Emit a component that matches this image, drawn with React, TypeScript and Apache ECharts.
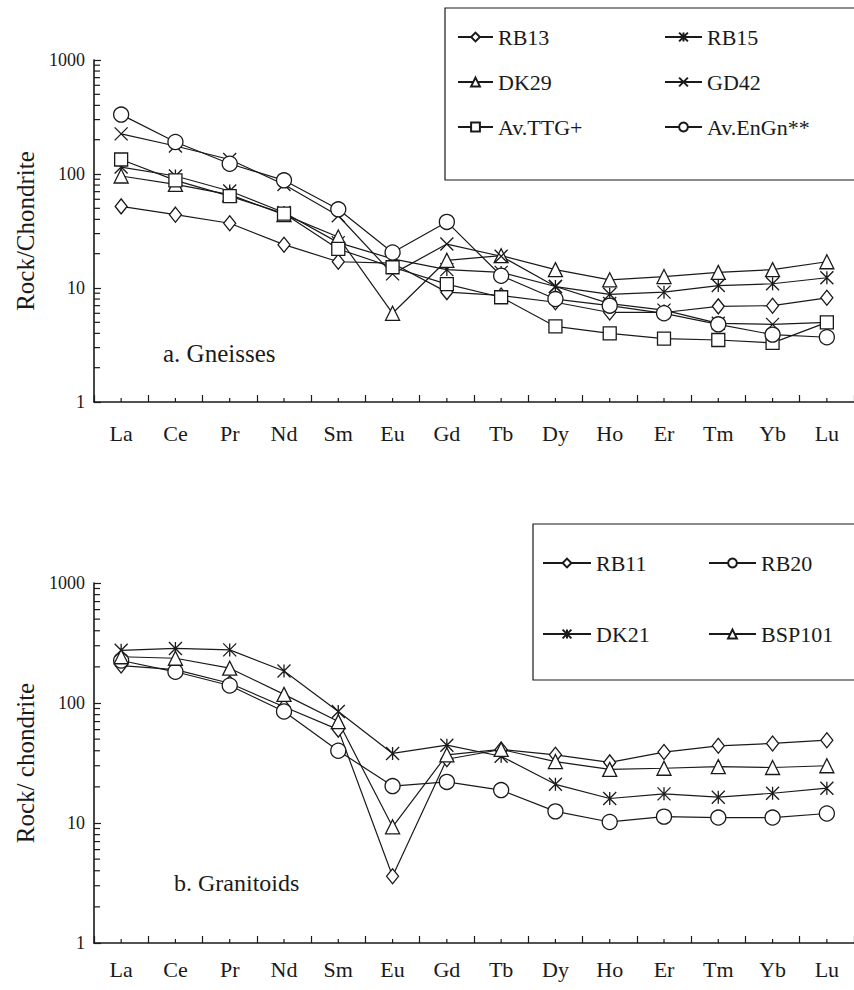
import React, { useEffect, useRef } from 'react';
import * as echarts from 'echarts';

// ---------- data ----------
const elements = ['La', 'Ce', 'Pr', 'Nd', 'Sm', 'Eu', 'Gd', 'Tb', 'Dy', 'Ho', 'Er', 'Tm', 'Yb', 'Lu'];
const yTickLabels = [1, 10, 100, 1000];
const minorTickValues = [2, 3, 4, 5, 6, 7, 8, 9, 20, 30, 40, 50, 60, 70, 80, 90, 200, 300, 400, 500, 600, 700, 800, 900];

// a. Gneisses
const rb13 = [52, 44, 37, 24, 17, 16.5, 9.2, 8.6, 7.5, 6.1, 6.1, 6.9, 7.0, 8.2];
const rb15 = [115, 96, 71, 46, 25, 18, 14.5, 13.7, 10.3, 8.8, 9.2, 10.5, 10.9, 12.3];
const dk29 = [96, 81, 66, 44, 28, 6.0, 17.5, 19.2, 14.5, 11.8, 12.6, 13.7, 14.5, 17];
const gd42 = [225, 176, 134, 81, 43, 13.3, 24.3, 19, 10.3, 7.3, 6.4, 4.9, 4.8, 5.0];
const avTTG = [134, 88, 64, 45, 22, 15.2, 10.8, 8.3, 4.6, 4.0, 3.6, 3.5, 3.3, 5.0];
const avEnGn = [332, 191, 123, 88, 49, 20.5, 38, 12.8, 8.0, 7.0, 6.0, 4.8, 3.9, 3.7];

// b. Granitoids
const rb11 = [205, 190, 146, 93, 60, 3.6, 34, 41, 37, 32, 39, 44, 46, 49];
const rb20 = [226, 182, 140, 85, 40, 20.3, 22, 18.8, 12.5, 10.2, 11.3, 11.1, 11.1, 12.0];
const dk21 = [275, 285, 277, 185, 85, 38, 44.5, 36, 21, 16, 17.5, 16.4, 17.7, 19.5];
const bsp101 = [243, 236, 195, 118, 70, 9.3, 37, 41, 32.5, 28, 28.6, 29.5, 29, 30];

// ---------- styling ----------
const INK = '#1a1a1a';
const FONT = 'Liberation Serif';

const SYM = {
  diamond: 'diamond',
  asterisk: 'path://M0 -1L0 1M-1 -1L1 1M-1 1L1 -1',
  cross: 'path://M-1 -1L1 1M-1 1L1 -1',
  triangle: 'triangle',
  square: 'rect',
  circle: 'circle',
};

function lineSeries(name: string, data: number[], symbol: string, size: number | number[], idx: number) {
  return {
    type: 'line',
    name,
    xAxisIndex: idx,
    yAxisIndex: idx,
    data,
    symbol,
    symbolSize: size,
    showAllSymbol: true,
    lineStyle: { color: INK, width: 1.2 },
    itemStyle: { color: '#ffffff', borderColor: INK, borderWidth: 1.3 },
    emphasis: { disabled: true },
    silent: true,
  };
}

function minorTickSeries(idx: number) {
  return [
    {
      type: 'custom',
      xAxisIndex: idx,
      yAxisIndex: idx,
      silent: true,
      clip: false,
      data: minorTickValues.map((v) => [0, v]),
      renderItem: (params: any, api: any) => {
        const p = api.coord([0, api.value(1)]);
        const x0 = params.coordSys.x;
        return {
          type: 'line',
          shape: { x1: x0, y1: p[1], x2: x0 + 6, y2: p[1] },
          style: { stroke: INK, lineWidth: 1.2 },
        };
      },
    },
    {
      type: 'custom',
      xAxisIndex: idx,
      yAxisIndex: idx,
      silent: true,
      clip: false,
      data: elements.map((_, i) => [i, yTickLabels[0]]),
      renderItem: (params: any, api: any) => {
        const p = api.coord([api.value(0), api.value(1)]);
        return {
          type: 'line',
          shape: { x1: p[0], y1: p[1], x2: p[0], y2: p[1] - 4 },
          style: { stroke: INK, lineWidth: 1.2 },
        };
      },
    },
  ];
}

function xAxis(idx: number, margin: number) {
  return {
    type: 'category',
    gridIndex: idx,
    data: elements,
    boundaryGap: true,
    axisLine: { lineStyle: { color: INK, width: 1.6 } },
    axisTick: { show: true, inside: true, length: 7, interval: 0, lineStyle: { color: INK, width: 1.2 } },
    axisLabel: { interval: 0, fontSize: 22, fontFamily: FONT, color: INK, margin },
    splitLine: { show: false },
  };
}

function yAxis(idx: number, name: string) {
  return {
    type: 'log',
    logBase: 10,
    gridIndex: idx,
    min: yTickLabels[0],
    max: yTickLabels[yTickLabels.length - 1],
    name,
    nameLocation: 'middle',
    nameRotate: 90,
    nameGap: 47,
    nameTextStyle: { fontSize: 25, fontFamily: FONT, color: INK },
    axisLine: { show: true, lineStyle: { color: INK, width: 1.6 } },
    axisTick: { show: true, inside: true, length: 7, lineStyle: { color: INK, width: 1.2 } },
    axisLabel: { fontSize: 18, fontFamily: FONT, color: INK, margin: 9, formatter: (v: number) => String(Math.round(v)) },
    splitLine: { show: false },
  };
}

const legendText = { fontSize: 22, fontFamily: FONT, color: INK };
const legendBase = { orient: 'vertical', padding: 0, itemHeight: 11, selectedMode: false, textStyle: legendText };

export default function App() {
  const ref = useRef<HTMLDivElement>(null);
  useEffect(() => {
    if (!ref.current) return;
    const chart = echarts.init(ref.current, undefined, { renderer: 'svg' });
    chart.setOption({
      animation: false,
      backgroundColor: '#ffffff',
      textStyle: { fontFamily: FONT },
      grid: [
        { left: 94, top: 60, width: 766, height: 342 },
        { left: 94, top: 583, width: 766, height: 360 },
      ],
      xAxis: [xAxis(0, 20), xAxis(1, 15)],
      yAxis: [yAxis(0, 'Rock/Chondrite'), yAxis(1, 'Rock/ chondrite')],
      legend: [
        { ...legendBase, left: 457, top: 26, itemGap: 23, itemWidth: 35, data: ['RB13', 'DK29', 'Av.TTG+'] },
        { ...legendBase, left: 664, top: 26, itemGap: 23, itemWidth: 37, data: ['RB15', 'GD42', 'Av.EnGn**'] },
        { ...legendBase, left: 542, top: 552, itemGap: 49, itemWidth: 48, data: ['RB11', 'DK21'] },
        { ...legendBase, left: 708, top: 552, itemGap: 49, itemWidth: 47, data: ['RB20', 'BSP101'] },
      ],
      graphic: [
        { type: 'rect', silent: true, shape: { x: 445, y: 8, width: 430, height: 172 }, style: { fill: 'none', stroke: INK, lineWidth: 1.2 } },
        { type: 'rect', silent: true, shape: { x: 533, y: 524, width: 340, height: 156 }, style: { fill: 'none', stroke: INK, lineWidth: 1.2 } },
        { type: 'text', silent: true, x: 163, y: 353, style: { text: 'a. Gneisses', fontSize: 25, fontFamily: FONT, fill: INK, verticalAlign: 'middle' } },
        { type: 'text', silent: true, x: 174, y: 883, style: { text: 'b. Granitoids', fontSize: 24, fontFamily: FONT, fill: INK, verticalAlign: 'middle' } },
      ],
      series: [
        ...minorTickSeries(0),
        ...minorTickSeries(1),
        lineSeries('RB13', rb13, SYM.diamond, [12, 15], 0),
        lineSeries('RB15', rb15, SYM.asterisk, 13, 0),
        lineSeries('DK29', dk29, SYM.triangle, 14, 0),
        lineSeries('GD42', gd42, SYM.cross, 13, 0),
        lineSeries('Av.TTG+', avTTG, SYM.square, 13, 0),
        lineSeries('Av.EnGn**', avEnGn, SYM.circle, 15, 0),
        lineSeries('RB11', rb11, SYM.diamond, [12, 15], 1),
        lineSeries('RB20', rb20, SYM.circle, 15, 1),
        lineSeries('DK21', dk21, SYM.asterisk, 13, 1),
        lineSeries('BSP101', bsp101, SYM.triangle, 14, 1),
      ],
    });
    return () => chart.dispose();
  }, []);
  return (
    <div
      ref={ref}
      style={{ position: 'absolute', left: 0, top: 0, width: 854, height: 990, background: '#fff' }}
    />
  );
}
